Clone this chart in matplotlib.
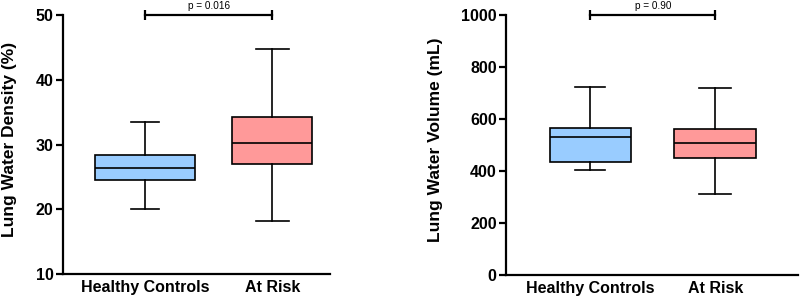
import matplotlib
matplotlib.use("Agg")
import matplotlib.pyplot as plt

plt.rcParams['font.family'] = ['Liberation Sans', 'DejaVu Sans']

groups = ['Healthy Controls', 'At Risk']
box_colors = ['#99CCFF', '#FF9999']

# density (%) : whislo, q1, med, q3, whishi
density_lo = [20.1, 18.2]
density_q1 = [24.6, 27.0]
density_med = [26.4, 30.3]
density_q3 = [28.4, 34.2]
density_hi = [33.5, 44.7]
density_p = 'p = 0.016'

# volume (mL)
volume_lo = [404, 312]
volume_q1 = [436, 449]
volume_med = [530, 506]
volume_q3 = [567, 563]
volume_hi = [723, 720]
volume_p = 'p = 0.90'


def make_stats(lo, q1, med, q3, hi):
    return [dict(whislo=a, q1=b, med=c, q3=d, whishi=e, fliers=[])
            for a, b, c, d, e in zip(lo, q1, med, q3, hi)]


def draw_panel(ax, stats, widths, capw, ylim, yticks, ylabel, ptext, ybar):
    lw = 1.2
    bp = ax.bxp(stats, positions=[1, 2], widths=widths, patch_artist=True,
                showfliers=False, capwidths=capw,
                boxprops=dict(linewidth=lw, edgecolor='black'),
                medianprops=dict(color='black', linewidth=lw),
                whiskerprops=dict(color='black', linewidth=lw),
                capprops=dict(color='black', linewidth=lw))
    for patch, c in zip(bp['boxes'], box_colors):
        patch.set_facecolor(c)
    ax.set_ylim(*ylim)
    ax.set_yticks(yticks)
    ax.set_xticks([1, 2])
    ax.set_xticklabels(groups, fontsize=11.5, fontweight='bold')
    ax.set_ylabel(ylabel, fontsize=12.5, fontweight='bold')
    for lab in ax.get_yticklabels():
        lab.set_fontweight('bold')
        lab.set_fontsize(11.5)
    ax.spines['top'].set_visible(False)
    ax.spines['right'].set_visible(False)
    ax.spines['left'].set_linewidth(1.6)
    ax.spines['bottom'].set_linewidth(1.6)
    ax.tick_params(axis='y', direction='out', length=5, width=1.6, pad=2)
    ax.tick_params(axis='x', length=0, pad=4)
    # significance bracket
    ax.plot([1, 2], [ybar, ybar], color='black', linewidth=1.6, clip_on=False)
    ax.plot([1, 2], [ybar, ybar], linestyle='none', marker='|', markersize=7,
            markeredgewidth=1.6, color='black', clip_on=False)
    ax.annotate(ptext, xy=(1.5, ybar), xytext=(0, 6.5), textcoords='offset points',
                ha='center', va='center', fontsize=7.2, annotation_clip=False)


fig = plt.figure(figsize=(8, 2.96), dpi=100)
ax1 = fig.add_axes([0.079, 0.074, 0.334, 0.875])
ax2 = fig.add_axes([0.633, 0.071, 0.364, 0.878])

draw_panel(ax1, make_stats(density_lo, density_q1, density_med, density_q3, density_hi),
           [0.79, 0.63], [0.22, 0.26], (10, 50), [10, 20, 30, 40, 50],
           'Lung Water Density (%)', density_p, 50)
ax1.set_xlim(0.354, 2.457)
ax1.yaxis.set_label_coords(-0.173, 0.52)

draw_panel(ax2, make_stats(volume_lo, volume_q1, volume_med, volume_q3, volume_hi),
           [0.65, 0.66], [0.24, 0.26], (0, 1000), [0, 200, 400, 600, 800, 1000],
           'Lung Water Volume (mL)', volume_p, 1000)
ax2.set_xlim(0.327, 2.66)
ax2.yaxis.set_label_coords(-0.219, 0.52)

fig.savefig('out.png', dpi=100)
